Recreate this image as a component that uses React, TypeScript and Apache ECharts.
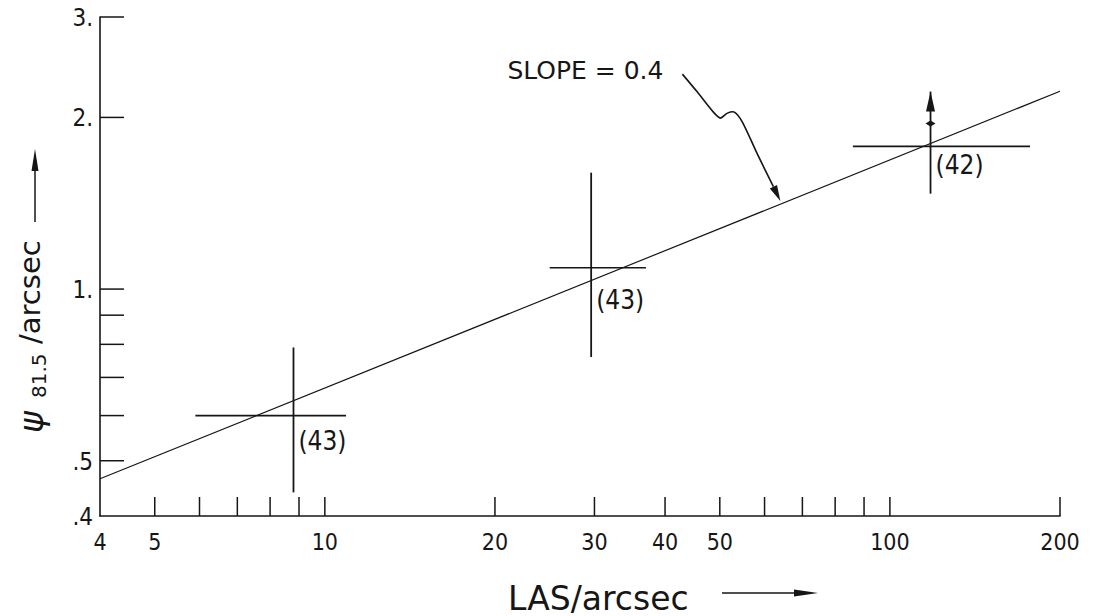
import React, { useEffect, useRef } from "react";
import * as echarts from "echarts";

const INK = "#161616";
const SANS = "'DejaVu Sans', 'Liberation Sans', sans-serif";
const NARROW = "'DejaVu Sans Condensed', 'Liberation Sans Narrow', 'DejaVu Sans', sans-serif";

// axis ranges (both logarithmic)
const LAS_MIN = 4;
const LAS_MAX = 200;
const PSI_MIN = 0.4;
const PSI_MAX = 3;

// tick marks and their labels
const lasTicks = [5, 6, 7, 8, 9, 10, 20, 30, 40, 50, 60, 70, 80, 90, 100, 200];
const lasTickLabelValues = [4, 5, 10, 20, 30, 40, 50, 100, 200];
const lasTickLabels = ["4", "5", "10", "20", "30", "40", "50", "100", "200"];
const psiTicks = [0.5, 0.6, 0.7, 0.8, 0.9, 1, 2, 3];
const psiTickLabelValues = [0.4, 0.5, 1, 2, 3];
const psiTickLabels = [".4", ".5", "1.", "2.", "3."];

// binned measurements: centre, LAS range, ψ range, number of sources
const binLAS = [8.8, 29.6, 118];
const binPsi = [0.6, 1.09, 1.78];
const binLASLow = [5.9, 25, 86];
const binLASHigh = [10.9, 37, 177];
const binPsiLow = [0.44, 0.76, 1.47];
const binPsiHigh = [0.79, 1.6, 2.22];
const binLowerLimit = [0, 0, 1];
const binCounts = ["(43)", "(43)", "(42)"];
const binLabelDy = [25, 32, 19];

// power-law fit  ψ = k · LAS^slope
const SLOPE = 0.4;
const FIT_K = 0.267;
const fitLAS = [4, 200];
const annotatedLAS = 64;

const fitPsi = (las: number) => FIT_K * Math.pow(las, SLOPE);

const axisCommon = {
  type: "log",
  logBase: 10,
  axisLine: { show: true, onZero: false, lineStyle: { color: INK, width: 1.6 } },
  axisTick: { show: false },
  axisLabel: { show: false },
  splitLine: { show: false },
  minorTick: { show: false },
  minorSplitLine: { show: false },
};

function txt(
  text: string,
  x: number,
  y: number,
  size: number,
  align: string,
  vAlign: string,
  family = NARROW,
  fontStyle = "normal"
) {
  return {
    type: "text",
    style: {
      text,
      x,
      y,
      fill: INK,
      fontSize: size,
      fontFamily: family,
      fontStyle,
      align,
      textAlign: align,
      verticalAlign: vAlign,
      textVerticalAlign: vAlign,
    },
  };
}

const option: any = {
  animation: false,
  backgroundColor: "#ffffff",
  grid: { left: 100, right: 35, top: 17, bottom: 100, containLabel: false, outerBoundsMode: "none" },
  xAxis: { ...axisCommon, min: LAS_MIN, max: LAS_MAX },
  yAxis: { ...axisCommon, min: PSI_MIN, max: PSI_MAX },
  graphic: [
    // x-axis title with arrow
    txt("LAS/arcsec", 508, 598, 33, "left", "middle", SANS),
    { type: "line", shape: { x1: 722, y1: 593, x2: 800, y2: 593 }, style: { stroke: INK, lineWidth: 1.5 } },
    { type: "polygon", shape: { points: [[818, 593], [794, 589.5], [794, 596.5]] }, style: { fill: INK } },
    // y-axis title (rotated) with arrow
    {
      type: "group",
      x: 34,
      y: 433,
      rotation: Math.PI / 2,
      children: [
        txt("ψ", 0, -3, 33, "left", "middle", SANS, "italic"),
        txt("81.5", 35, 5, 20, "left", "middle", SANS),
        txt("/arcsec", 89, -4, 29, "left", "middle", SANS),
        { type: "line", shape: { x1: 211, y1: 1, x2: 266, y2: 1 }, style: { stroke: INK, lineWidth: 1.5 } },
        { type: "polygon", shape: { points: [[284, 1], [262, -2.5], [262, 4.5]] }, style: { fill: INK } },
      ],
    },
  ],
  series: [
    // fitted power law
    {
      type: "line",
      data: fitLAS.map((x) => [x, fitPsi(x)]),
      symbol: "none",
      lineStyle: { color: INK, width: 1.2 },
      silent: true,
      z: 3,
    },
    // LAS ticks pointing up from the x axis
    {
      type: "custom",
      coordinateSystem: "cartesian2d",
      clip: false,
      silent: true,
      data: lasTicks.map((v) => [v, PSI_MIN]),
      renderItem: (_p: any, api: any) => {
        const c = api.coord([api.value(0), api.value(1)]);
        return {
          type: "line",
          shape: { x1: c[0], y1: c[1], x2: c[0], y2: c[1] - 19 },
          style: { stroke: INK, lineWidth: 1.5 },
        };
      },
    },
    // LAS tick labels
    {
      type: "custom",
      coordinateSystem: "cartesian2d",
      clip: false,
      silent: true,
      data: lasTickLabelValues.map((v) => [v, PSI_MIN]),
      renderItem: (p: any, api: any) => {
        const c = api.coord([api.value(0), api.value(1)]);
        return txt(lasTickLabels[p.dataIndex], c[0], c[1] + 26, 23, "center", "middle");
      },
    },
    // ψ ticks pointing right from the y axis
    {
      type: "custom",
      coordinateSystem: "cartesian2d",
      clip: false,
      silent: true,
      data: psiTicks.map((v) => [LAS_MIN, v]),
      renderItem: (_p: any, api: any) => {
        const c = api.coord([api.value(0), api.value(1)]);
        return {
          type: "line",
          shape: { x1: c[0], y1: c[1], x2: c[0] + 24, y2: c[1] },
          style: { stroke: INK, lineWidth: 1.5 },
        };
      },
    },
    // ψ tick labels
    {
      type: "custom",
      coordinateSystem: "cartesian2d",
      clip: false,
      silent: true,
      data: psiTickLabelValues.map((v) => [LAS_MIN, v]),
      renderItem: (p: any, api: any) => {
        const c = api.coord([api.value(0), api.value(1)]);
        return txt(psiTickLabels[p.dataIndex], c[0] - 7, c[1] + 1, 24, "right", "middle");
      },
    },
    // binned points drawn as error crosses
    {
      type: "custom",
      coordinateSystem: "cartesian2d",
      clip: false,
      silent: true,
      z: 4,
      data: binLAS.map((x, i) => [
        x,
        binPsi[i],
        binLASLow[i],
        binLASHigh[i],
        binPsiLow[i],
        binPsiHigh[i],
        binLowerLimit[i],
      ]),
      renderItem: (p: any, api: any) => {
        const i = p.dataIndex;
        const x = api.value(0);
        const y = api.value(1);
        const c = api.coord([x, y]);
        const xl = api.coord([api.value(2), y]);
        const xh = api.coord([api.value(3), y]);
        const yl = api.coord([x, api.value(4)]);
        const yh = api.coord([x, api.value(5)]);
        const children: any[] = [
          { type: "line", shape: { x1: xl[0], y1: xl[1], x2: xh[0], y2: xh[1] }, style: { stroke: INK, lineWidth: 1.7 } },
          { type: "line", shape: { x1: yl[0], y1: yl[1], x2: yh[0], y2: yh[1] }, style: { stroke: INK, lineWidth: 1.8 } },
          txt(binCounts[i], c[0] + 5, c[1] + binLabelDy[i], 26, "left", "middle"),
        ];
        if (api.value(6)) {
          // open-ended upper side: arrowhead plus a small bar
          children.push({
            type: "polygon",
            shape: { points: [[yh[0], yh[1]], [yh[0] - 4.5, yh[1] + 20], [yh[0] + 4.5, yh[1] + 20]] },
            style: { fill: INK },
          });
          children.push({
            type: "polygon",
            shape: {
              points: [
                [yh[0] - 5, yh[1] + 32],
                [yh[0], yh[1] + 29],
                [yh[0] + 5, yh[1] + 32],
                [yh[0], yh[1] + 35],
              ],
            },
            style: { fill: INK },
          });
        }
        return { type: "group", children };
      },
    },
    // slope annotation pointing at the fit line
    {
      type: "custom",
      coordinateSystem: "cartesian2d",
      clip: false,
      silent: true,
      z: 5,
      data: [[annotatedLAS, fitPsi(annotatedLAS)]],
      renderItem: (_p: any, api: any) => {
        const c = api.coord([api.value(0), api.value(1)]);
        return {
          type: "group",
          x: c[0],
          y: c[1] - 3,
          children: [
            {
              type: "polyline",
              shape: {
                points: [
                  [-98, -127],
                  [-83, -109],
                  [-67, -89],
                  [-60, -83],
                  [-53, -88],
                  [-46, -89],
                  [-38, -79],
                  [-23, -47],
                  [-7, -14.4],
                ],
                smooth: 0.25,
              },
              style: { stroke: INK, lineWidth: 1.6, fill: "none" },
            },
            {
              type: "polygon",
              shape: { points: [[0, 0], [-10.6, -12.6], [-3.4, -16.2]] },
              style: { fill: INK },
            },
            txt("SLOPE = 0.4", -273, -131, 25, "left", "middle", SANS),
          ],
        };
      },
    },
  ],
};

export default function App() {
  const ref = useRef<HTMLDivElement>(null);
  useEffect(() => {
    if (!ref.current) return;
    const chart = echarts.init(ref.current, undefined, { renderer: "svg" });
    chart.setOption(option);
    return () => chart.dispose();
  }, []);
  return (
    <div
      ref={ref}
      style={{ position: "fixed", left: 0, top: 0, width: 1095, height: 616, background: "#ffffff" }}
    />
  );
}
